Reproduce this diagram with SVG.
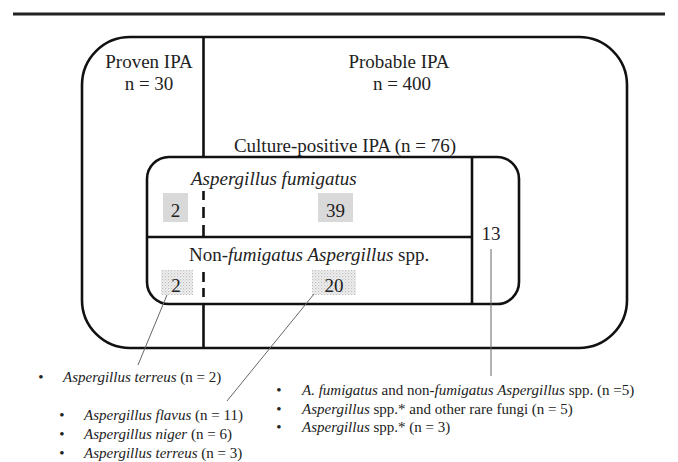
<svg xmlns="http://www.w3.org/2000/svg" width="678" height="462" viewBox="0 0 678 462">
  <style>
    .frame { fill: none; stroke: #111; stroke-width: 2.6; }
    .div { stroke: #111; stroke-width: 2.6; fill: none; }
    .lead { stroke: #666; stroke-width: 1; fill: none; }
    .t { font-family: "Liberation Serif", "Times New Roman", serif; fill: #222; }
    .big { font-size: 19px; }
    .small { font-size: 15px; }
    .it { font-style: italic; }
    .shade { fill: #d9d9d9; }
    .dots { fill: url(#dotfill); }
  </style>
  <defs>
    <pattern id="dotfill" width="3" height="3" patternUnits="userSpaceOnUse">
      <rect width="3" height="3" fill="#f1f1f1"/>
      <rect x="0" y="0" width="1.2" height="1.2" fill="#bdbdbd"/>
      <rect x="1.5" y="1.5" width="1.2" height="1.2" fill="#cfcfcf"/>
    </pattern>
  </defs>

  <rect width="678" height="462" fill="#ffffff"/>

  <!-- top rule -->
  <line x1="13" y1="14" x2="665" y2="14" stroke="#222" stroke-width="3"/>

  <!-- all IPA cases -->
  <g id="ipa-all">
    <rect class="frame" x="82" y="37" width="545" height="311" rx="48" ry="48"/>
  </g>

  <!-- proven / probable split -->
  <g id="proven">
    <text class="t big" x="149" y="68" text-anchor="middle">Proven IPA</text>
    <text class="t big" x="149" y="90" text-anchor="middle">n = 30</text>
  </g>
  <g id="probable">
    <text class="t big" x="399" y="68" text-anchor="middle">Probable IPA</text>
    <text class="t big" x="402" y="90" text-anchor="middle">n = 400</text>
  </g>

  <!-- culture-positive subset -->
  <g id="culture-positive">
    <text class="t big" x="345" y="152" text-anchor="middle">Culture-positive IPA (n = 76)</text>
    <rect class="frame" x="147" y="157" width="372" height="147" rx="22" ry="22"/>
    <line class="div" x1="472" y1="157" x2="472" y2="304"/>
    <line class="div" x1="147" y1="237" x2="472" y2="237"/>
  </g>

  <g id="fumigatus">
    <text class="t big it" x="191" y="185">Aspergillus fumigatus</text>
    <rect class="shade" x="163" y="193" width="25" height="29"/>
    <text class="t big" x="175.5" y="217" text-anchor="middle">2</text>
    <rect class="shade" x="318" y="193" width="35" height="29"/>
    <text class="t big" x="335.5" y="217" text-anchor="middle">39</text>
  </g>

  <g id="non-fumigatus">
    <text class="t big" x="189" y="261">Non-<tspan class="it">fumigatus Aspergillus</tspan> spp.</text>
    <rect class="dots" x="161" y="270" width="32" height="25"/>
    <text class="t big" x="176" y="292" text-anchor="middle">2</text>
    <rect class="dots" x="312" y="270" width="44" height="25"/>
    <text class="t big" x="334" y="292" text-anchor="middle">20</text>
  </g>

  <g id="other">
    <text class="t big" x="491" y="240" text-anchor="middle">13</text>
  </g>

  <!-- proven/probable divider (dashed inside the culture box) and leader lines -->
  <g id="connectors">
    <line class="div" x1="203.5" y1="37" x2="203.5" y2="158"/>
    <line class="div" x1="203.5" y1="191" x2="203.5" y2="200"/>
    <line class="div" x1="203.5" y1="207" x2="203.5" y2="218"/>
    <line class="div" x1="203.5" y1="225" x2="203.5" y2="237"/>
    <line class="div" x1="203.5" y1="272" x2="203.5" y2="282"/>
    <line class="div" x1="203.5" y1="288" x2="203.5" y2="297"/>
    <line class="div" x1="203.5" y1="304" x2="203.5" y2="348"/>
    <line class="lead" x1="167" y1="295" x2="138" y2="365"/>
    <line class="lead" x1="314" y1="294" x2="227" y2="401"/>
    <line class="lead" x1="491" y1="249" x2="491" y2="376"/>
  </g>

  <g id="list-proven">
    <text class="t small" x="41" y="382" text-anchor="middle">•</text>
    <text class="t small" x="63" y="382"><tspan class="it">Aspergillus terreus</tspan> (n = 2)</text>
  </g>

  <g id="list-non-fumigatus">
    <text class="t small" x="62" y="420" text-anchor="middle">•</text>
    <text class="t small" x="84" y="420"><tspan class="it">Aspergillus flavus</tspan> (n = 11)</text>
    <text class="t small" x="62" y="439" text-anchor="middle">•</text>
    <text class="t small" x="84" y="439"><tspan class="it">Aspergillus niger</tspan> (n = 6)</text>
    <text class="t small" x="62" y="458" text-anchor="middle">•</text>
    <text class="t small" x="84" y="458"><tspan class="it">Aspergillus terreus</tspan> (n = 3)</text>
  </g>

  <g id="list-other">
    <text class="t small" x="279" y="395" text-anchor="middle">•</text>
    <text class="t small" x="302" y="395"><tspan class="it">A. fumigatus</tspan> and non-<tspan class="it">fumigatus Aspergillus</tspan> spp. (n =5)</text>
    <text class="t small" x="279" y="413.5" text-anchor="middle">•</text>
    <text class="t small" x="302" y="413.5"><tspan class="it">Aspergillus</tspan> spp.* and other rare fungi (n = 5)</text>
    <text class="t small" x="279" y="432" text-anchor="middle">•</text>
    <text class="t small" x="302" y="432"><tspan class="it">Aspergillus</tspan> spp.* (n = 3)</text>
  </g>
</svg>
